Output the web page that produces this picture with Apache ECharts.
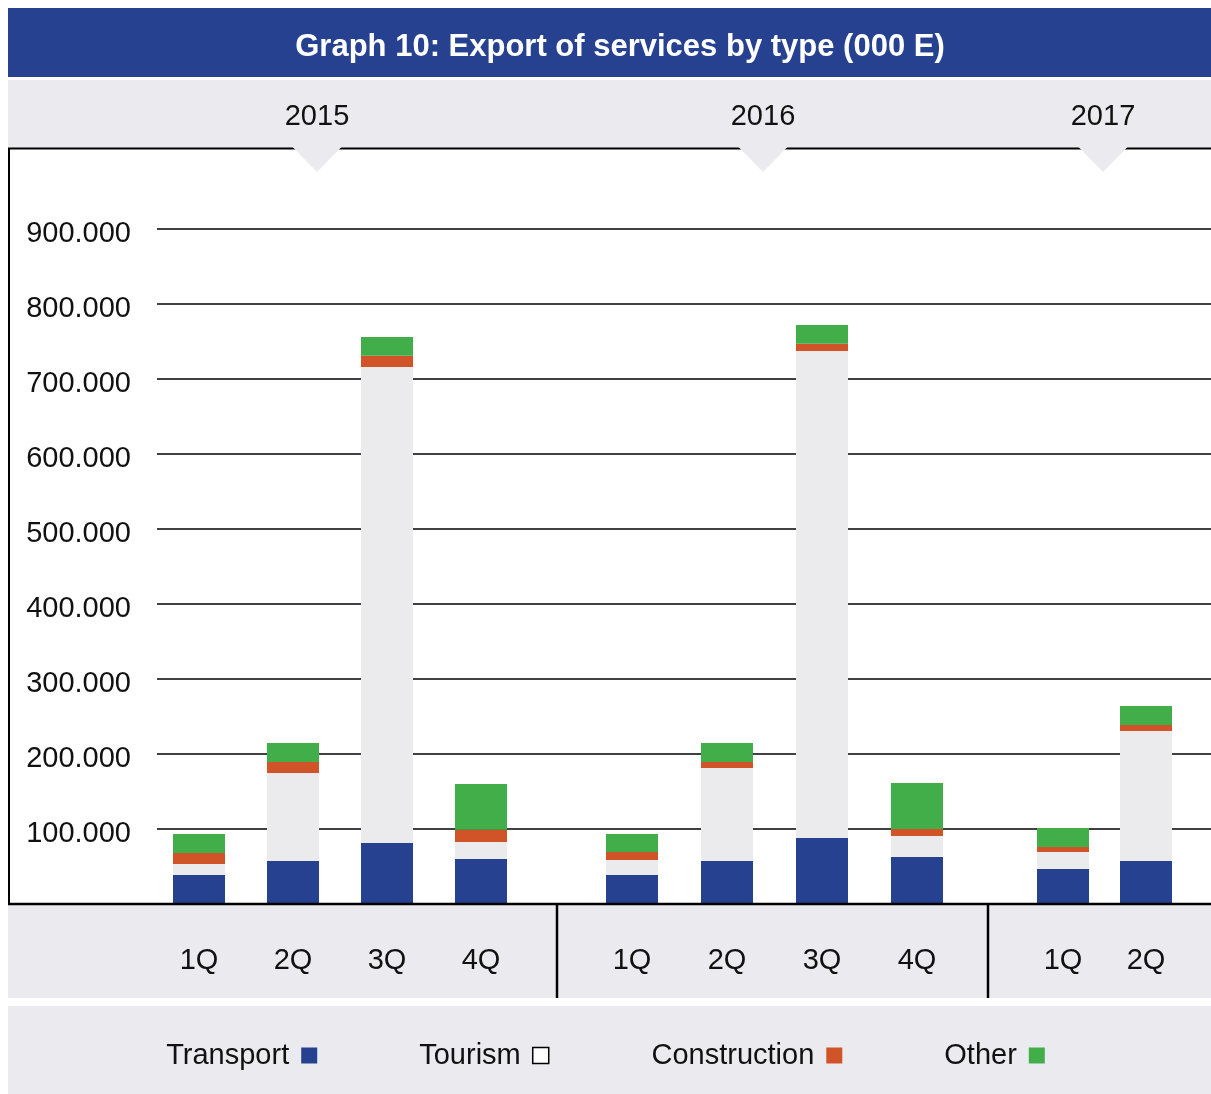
<!DOCTYPE html>
<html>
<head>
<meta charset="utf-8">
<title>Export of services by type</title>
<script src="https://cdn.jsdelivr.net/npm/echarts@6/dist/echarts.min.js"></script>
<style>
  html, body { margin: 0; padding: 0; background: #ffffff; }
  #chart { width: 1211px; height: 1094px; }
</style>
</head>
<body>
<div id="chart"></div>
<script>
// ---- data (000 E) ----
const years = ['2015', '2016', '2017'];
const quartersPerYear = [
  ['1Q', '2Q', '3Q', '4Q'],
  ['1Q', '2Q', '3Q', '4Q'],
  ['1Q', '2Q']
];
const transport    = [38700, 57300, 81300, 60000, 38700, 57300, 88000, 62700, 46700, 57300];
const tourism      = [14700, 117400, 634700, 22700, 20000, 124000, 649300, 28000, 22600, 173400];
const construction = [14700, 14600, 15000, 16300, 10700, 8000, 9700, 9300, 6700, 8000];
const other        = [25300, 25400, 25000, 61000, 24000, 25300, 25000, 61300, 25300, 25300];
const yMin = 0, yMax = 900000, yStep = 100000;

// ---- look ----
const FONT = "'Liberation Sans', Arial, Helvetica, sans-serif";
const BLUE = '#26418f', ORANGE = '#d05428', GREEN = '#42ae4a', LIGHT = '#ebebed', BAND = '#ebebef';
const seriesDefs = [
  { name: 'Transport',    values: transport,    color: BLUE },
  { name: 'Tourism',      values: tourism,      color: LIGHT },
  { name: 'Construction', values: construction, color: ORANGE },
  { name: 'Other',        values: other,        color: GREEN }
];

// ---- layout ----
const W = 1211, H = 1094;
const plotTop = 229, plotBottom = 904;
const yearGrids = [
  { left: 152,   width: 376 },
  { left: 584.5, width: 380 },
  { left: 1021.5, width: 166 }
];
const yearLabelX = [317, 763, 1103];
const dividerX = [557, 988];

function thousands(v) {
  return String(v).replace(/\B(?=(\d{3})+(?!\d))/g, '.');
}

const grids = [{ left: 157, right: 0, top: plotTop, bottom: H - plotBottom }];
const xAxes = [{ type: 'value', gridIndex: 0, show: false }];
const yAxes = [{
  type: 'value', gridIndex: 0, min: yMin, max: yMax, interval: yStep,
  axisLine: { show: false }, axisTick: { show: false },
  axisLabel: {
    margin: 26, fontSize: 29, fontFamily: FONT, color: '#111',
    formatter: v => (v === 0 ? '' : '{v|' + thousands(v) + '}'),
    rich: { v: { fontSize: 29, fontFamily: FONT, color: '#111', padding: [10, 0, 0, 0] } }
  },
  splitLine: { show: true, lineStyle: { color: '#000', width: 1.7 } }
}];
const series = [];

let offset = 0;
years.forEach((yr, i) => {
  const qs = quartersPerYear[i];
  grids.push({ left: yearGrids[i].left, width: yearGrids[i].width, top: plotTop, bottom: H - plotBottom });
  xAxes.push({
    type: 'category', gridIndex: i + 1, data: qs,
    axisLine: { show: false }, axisTick: { show: false },
    axisLabel: { margin: 42, fontSize: 29, fontFamily: FONT, color: '#111' }
  });
  yAxes.push({ type: 'value', gridIndex: i + 1, min: yMin, max: yMax, interval: yStep, show: false, splitLine: { show: false } });
  seriesDefs.forEach(s => {
    series.push({
      type: 'bar', name: s.name, stack: 'year' + i,
      xAxisIndex: i + 1, yAxisIndex: i + 1,
      barWidth: 52,
      itemStyle: { color: s.color },
      data: s.values.slice(offset, offset + qs.length)
    });
  });
  offset += qs.length;
});

// frame, bands and year header
const graphic = [
  { type: 'rect', z: 0, shape: { x: 8, y: 8, width: W - 8, height: 69 }, style: { fill: BLUE } },
  { type: 'rect', z: 0, shape: { x: 8, y: 80, width: W - 8, height: 68 }, style: { fill: BAND } },
  { type: 'rect', z: 0, shape: { x: 8, y: 905, width: W - 8, height: 93 }, style: { fill: BAND } },
  { type: 'rect', z: 0, shape: { x: 8, y: 1006, width: W - 8, height: 88 }, style: { fill: BAND } },
  { type: 'line', z: 50, shape: { x1: 8, y1: 148.5, x2: W, y2: 148.5 }, style: { stroke: '#000', lineWidth: 2 } },
  { type: 'line', z: 50, shape: { x1: 9, y1: 148, x2: 9, y2: 904 }, style: { stroke: '#000', lineWidth: 2 } },
  { type: 'line', z: 50, shape: { x1: 8, y1: 904, x2: W, y2: 904 }, style: { stroke: '#000', lineWidth: 2.5 } }
];
dividerX.forEach(x => {
  graphic.push({ type: 'line', z: 50, shape: { x1: x, y1: 904, x2: x, y2: 998 }, style: { stroke: '#000', lineWidth: 2.5 } });
});
years.forEach((yr, i) => {
  const x = yearLabelX[i];
  graphic.push({
    type: 'polygon', z: 60,
    shape: { points: [[x - 24.5, 147], [x + 24.5, 147], [x, 172]] },
    style: { fill: BAND }
  });
  graphic.push({
    type: 'text', z: 60, x: x, y: 117,
    style: { text: yr, fontSize: 29, fontFamily: FONT, fill: '#111', align: 'center', verticalAlign: 'middle' }
  });
});

const option = {
  backgroundColor: '#ffffff',
  animation: false,
  title: {
    text: 'Graph 10: Export of services by type (000 E)',
    left: 615, top: 27, textAlign: 'center',
    textStyle: { color: '#ffffff', fontSize: 31, fontWeight: 'bold', fontFamily: FONT }
  },
  legend: {
    left: 'center', top: 1036,
    icon: 'rect', itemWidth: 16, itemHeight: 16, itemGap: 102, align: 'right',
    textStyle: { fontSize: 29, fontFamily: FONT, color: '#111', padding: [0, 7, 0, 0] },
    data: [
      { name: 'Transport' },
      { name: 'Tourism', itemStyle: { color: '#ffffff', borderColor: '#000', borderWidth: 1.5 } },
      { name: 'Construction' },
      { name: 'Other' }
    ]
  },
  grid: grids,
  xAxis: xAxes,
  yAxis: yAxes,
  series: series,
  graphic: graphic
};

const chart = echarts.init(document.getElementById('chart'), null, { renderer: 'canvas' });
chart.setOption(option);
</script>
</body>
</html>
